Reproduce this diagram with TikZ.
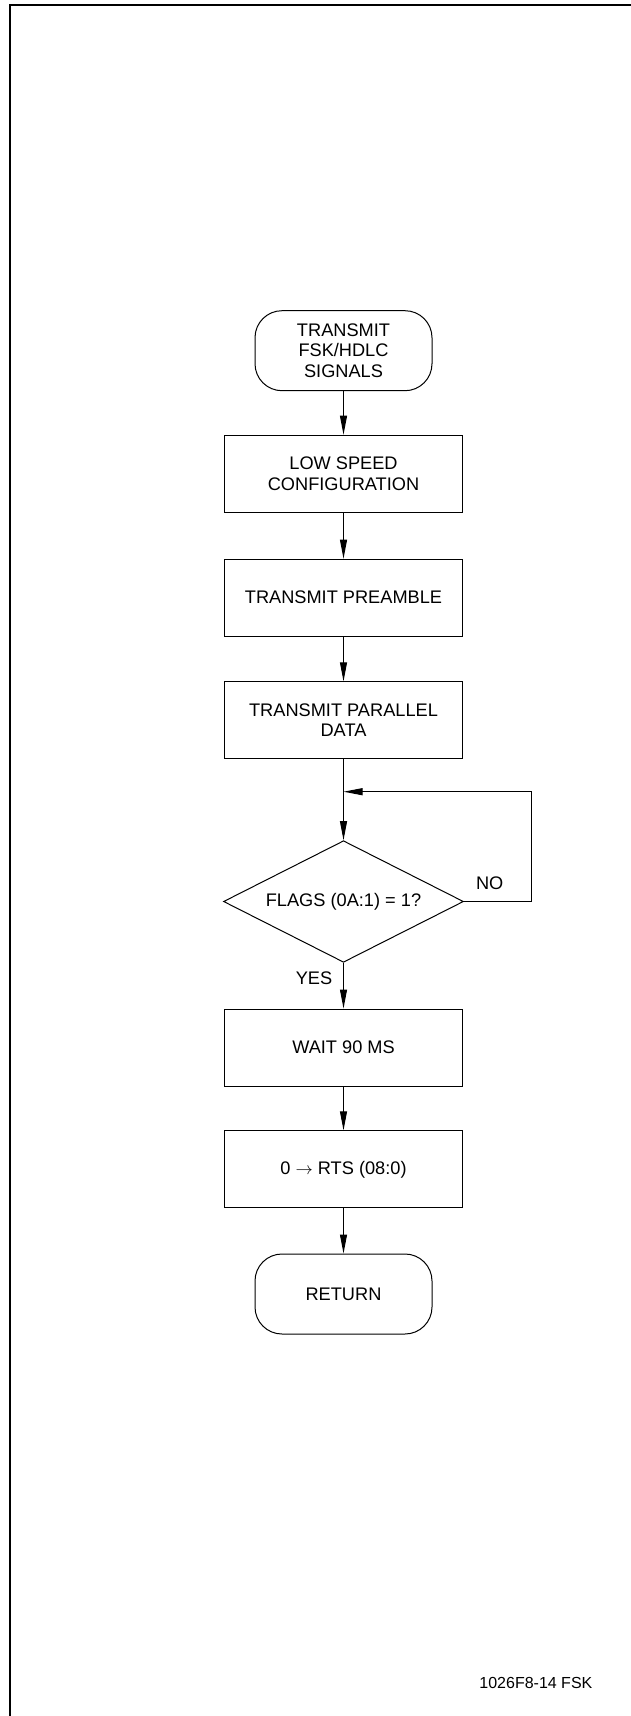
\documentclass[tikz,border=0pt]{standalone}
\usepackage{fontspec}
\setmainfont{Liberation Sans}
\usetikzlibrary{shapes.geometric,arrows.meta}

\begin{document}
\begin{tikzpicture}[x=1pt,y=-1pt,
  every node/.style={font=\fontsize{18.2}{20.3}\selectfont},
  term/.style={draw,line width=1pt,rounded corners=27pt,minimum width=177pt,minimum height=80pt,align=center,inner sep=0pt},
  box/.style={draw,line width=1pt,minimum width=238.5pt,minimum height=77pt,align=center,inner sep=0pt},
  test/.style={draw,line width=1pt,diamond,aspect=2,minimum width=240pt,minimum height=121.6pt,inner sep=0pt},
  arr/.style={line width=1pt,-{Triangle[length=19pt,width=7pt]}}]
\useasboundingbox (0,0) rectangle (631,1716);
\draw[line width=2pt] (10,1716) -- (10,5) -- (631,5);
\node[term] (start) at (343.5,350.7) {TRANSMIT\\FSK/HDLC\\SIGNALS};
\node[box] (lowspeed) at (343.5,473.7) {LOW SPEED\\CONFIGURATION};
\node[box] (preamble) at (343.5,597.7) {TRANSMIT PREAMBLE};
\node[box] (parallel) at (343.5,720.3) {TRANSMIT PARALLEL\\DATA};
\node[test] (flags) at (343.5,901.5) {FLAGS (0A:1) = 1?};
\node[box] (wait) at (343.5,1047.5) {WAIT 90 MS};
\node[box] (rts) at (343.5,1169.3) {0 $\rightarrow$ RTS (08:0)};
\node[term] (ret) at (343.5,1294) {RETURN};
\coordinate (loop) at (343.5,791.7);
\coordinate (nocorner) at (531,791.7);
\draw[arr] (start) -- (lowspeed);
\draw[arr] (lowspeed) -- (preamble);
\draw[arr] (preamble) -- (parallel);
\draw[arr] (parallel) -- (flags);
\draw[arr] (flags.east) -| (nocorner) -- (loop);
\draw[arr] (flags) -- (wait);
\draw[arr] (wait) -- (rts);
\draw[arr] (rts) -- (ret);
\node (no) at (489.7,883.5) {NO};
\node (yes) at (314,978) {YES};
\node[font=\fontsize{16}{18}\selectfont] (figid) at (535.9,1682.7) {1026F8-14 FSK};
\end{tikzpicture}
\end{document}
